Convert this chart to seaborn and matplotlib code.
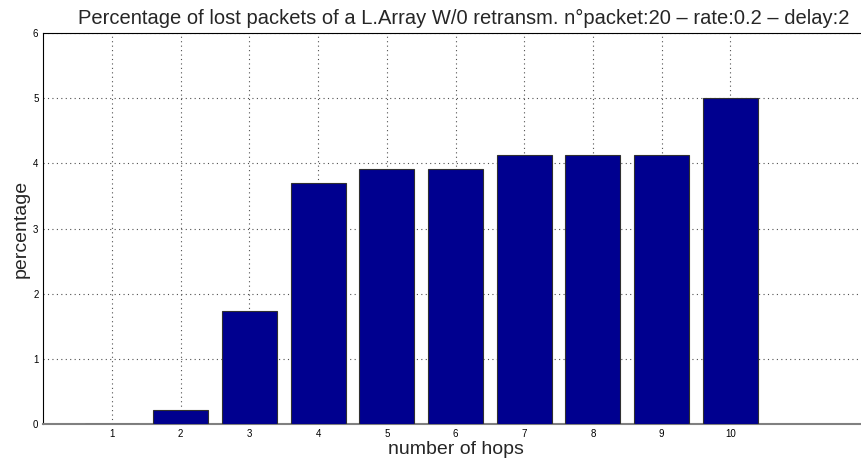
import matplotlib
matplotlib.use("Agg")
import matplotlib.pyplot as plt
import seaborn as sns

# dati: percentuale di pacchetti persi per numero di hop
hops = [1, 2, 3, 4, 5, 6, 7, 8, 9, 10]
percentage = [0.0, 0.217, 1.739, 3.696, 3.913, 3.913, 4.130, 4.130, 4.130, 5.0]
yticks = [0, 1, 2, 3, 4, 5, 6]

sns.set_style('white')
plt.rcParams['font.family'] = ['Liberation Sans', 'DejaVu Sans']

fig = plt.figure(figsize=(8.61, 4.65), dpi=100)
ax = fig.add_axes([0.0503, 0.0888, 0.9575, 0.8396])

sns.barplot(x=hops, y=percentage, native_scale=True, width=0.8,
            color='#00008F', saturation=1, edgecolor='#303030',
            linewidth=0.8, ax=ax, zorder=3)

ax.set_xlim(0, 12)
ax.set_ylim(0, 6)
ax.set_xticks(hops)
ax.set_xticklabels([str(h) for h in hops])
ax.set_yticks(yticks)
ax.tick_params(direction='in', length=4, labelsize=7, colors='black')
ax.set_axisbelow(True)
ax.grid(True, linestyle=(0, (1, 3)), color='#505050', linewidth=0.8)

for s in ['left', 'top']:
    ax.spines[s].set_color('black')
    ax.spines[s].set_linewidth(0.8)
ax.spines['bottom'].set_color('#808080')
ax.spines['bottom'].set_linewidth(1.5)
ax.spines['right'].set_visible(False)

ax.set_xlabel('number of hops', fontsize=14, labelpad=2)
ax.set_ylabel('percentage', fontsize=14, labelpad=2)
ax.set_title('Percentage of lost packets of a L.Array W/0 retransm. n\u00b0packet:20 \u2013 rate:0.2 \u2013 delay:2',
             fontsize=14.5, pad=7, x=0.51)

fig.savefig('out.png', dpi=100)
